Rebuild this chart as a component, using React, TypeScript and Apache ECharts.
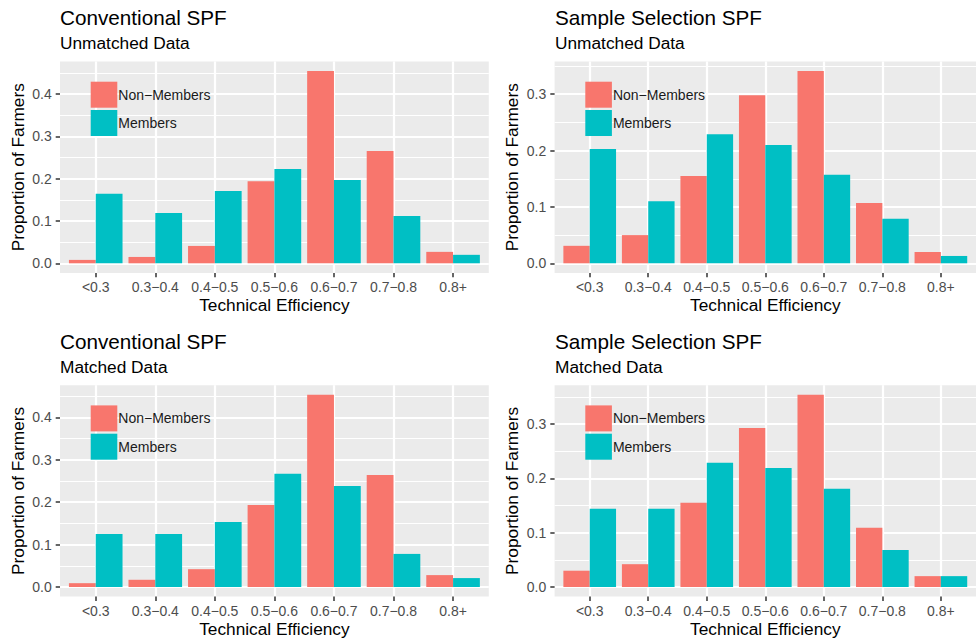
import React, { useEffect, useRef } from "react";
import * as echarts from "echarts";

const categories = ["<0.3", "0.3−0.4", "0.4−0.5", "0.5−0.6", "0.6−0.7", "0.7−0.8", "0.8+"];
const categoryPositions = [1, 2, 3, 4, 5, 6, 7];

const convUnmatchedNonMembers = [0.008, 0.015, 0.041, 0.194, 0.454, 0.265, 0.027];
const convUnmatchedMembers = [0.164, 0.119, 0.171, 0.223, 0.197, 0.112, 0.020];
const ssUnmatchedNonMembers = [0.031, 0.050, 0.155, 0.298, 0.341, 0.107, 0.020];
const ssUnmatchedMembers = [0.203, 0.110, 0.229, 0.210, 0.157, 0.079, 0.013];
const convMatchedNonMembers = [0.009, 0.017, 0.042, 0.193, 0.453, 0.264, 0.028];
const convMatchedMembers = [0.125, 0.125, 0.153, 0.267, 0.238, 0.078, 0.021];
const ssMatchedNonMembers = [0.030, 0.042, 0.155, 0.293, 0.354, 0.109, 0.020];
const ssMatchedMembers = [0.144, 0.144, 0.229, 0.219, 0.181, 0.068, 0.020];

const panelTitles = ["Conventional SPF", "Sample Selection SPF", "Conventional SPF", "Sample Selection SPF"];
const panelSubtitles = ["Unmatched Data", "Unmatched Data", "Matched Data", "Matched Data"];
const majorTicks = [0, 0.1, 0.2, 0.3, 0.4];
const minorTicks = [0.05, 0.15, 0.25, 0.35, 0.45];
const seriesNames = ["Non−Members", "Members"];
const xTitle = "Technical Efficiency";
const yTitle = "Proportion of Farmers";

const panelData = [
  [convUnmatchedNonMembers, convUnmatchedMembers],
  [ssUnmatchedNonMembers, ssUnmatchedMembers],
  [convMatchedNonMembers, convMatchedMembers],
  [ssMatchedNonMembers, ssMatchedMembers],
];

const FONT = "Liberation Sans";
const COLORS = ["#F8766D", "#00BFC4"];
const PANEL_W = 428.8;
const PANEL_H = 211.4;
const LEFTS = [60, 554.6, 60, 554.6];
const TOPS = [61.5, 61.5, 385.2, 385.2];

export default function App() {
  const ref = useRef<HTMLDivElement>(null);
  useEffect(() => {
    document.body.style.margin = "0";
    if (!ref.current) return;
    const chart = echarts.init(ref.current, null, { renderer: "svg" });

    const grids: any[] = [];
    const xAxes: any[] = [];
    const yAxes: any[] = [];
    const minorYAxes: any[] = [];
    const series: any[] = [];
    const titles: any[] = [];
    const legends: any[] = [];

    panelData.forEach((pair, i) => {
      const dataMax = Math.max(...pair[0], ...pair[1]);
      const yMin = -0.05 * dataMax;
      const yMax = 1.05 * dataMax;
      const majors = majorTicks.filter((v) => v <= yMax);
      const minors = minorTicks.filter((v) => v <= yMax);

      grids.push({
        left: LEFTS[i],
        top: TOPS[i],
        width: PANEL_W,
        height: PANEL_H,
        show: true,
        backgroundColor: "#EBEBEB",
        borderWidth: 0,
        containLabel: false,
      });

      xAxes.push({
        type: "value",
        gridIndex: i,
        min: 0.4,
        max: 7.6,
        position: "bottom",
        axisLine: { show: false, onZero: false },
        axisTick: { show: true, length: 4.3, customValues: categoryPositions, lineStyle: { color: "#333333", width: 1.5 } },
        axisLabel: {
          show: true,
          customValues: categoryPositions,
          margin: 7,
          fontSize: 14,
          color: "#4D4D4D",
          fontFamily: FONT,
          formatter: (v: number) => categories[Math.round(v) - 1] ?? "",
        },
        splitLine: { show: true, lineStyle: { color: "#FFFFFF", width: 2.2 } },
        name: xTitle,
        nameLocation: "middle",
        nameGap: 24,
        nameTextStyle: { fontSize: 17.3, color: "#000000", fontFamily: FONT },
      });

      yAxes.push({
        type: "value",
        gridIndex: i,
        min: yMin,
        max: yMax,
        position: "left",
        axisLine: { show: false, onZero: false },
        axisTick: { show: true, length: 4.3, customValues: majors, lineStyle: { color: "#333333", width: 1.5 } },
        axisLabel: {
          show: true,
          customValues: majors,
          margin: 8.3,
          fontSize: 14,
          color: "#4D4D4D",
          fontFamily: FONT,
          formatter: (v: number) => v.toFixed(1),
        },
        splitLine: { show: true, lineStyle: { color: "#FFFFFF", width: 2.2 } },
        name: yTitle,
        nameLocation: "middle",
        nameGap: 34,
        nameRotate: 90,
        nameTextStyle: { fontSize: 17.3, color: "#000000", fontFamily: FONT },
        z: 1,
      });

      minorYAxes.push({
        type: "value",
        gridIndex: i,
        min: yMin,
        max: yMax,
        position: "left",
        axisLine: { show: false, onZero: false },
        axisTick: { show: false, customValues: minors },
        axisLabel: { show: false, customValues: minors },
        splitLine: { show: true, lineStyle: { color: "#FFFFFF", width: 1.1 } },
        z: 0,
      });

      pair.forEach((values, s) => {
        series.push({
          type: "bar",
          name: seriesNames[s],
          xAxisIndex: i,
          yAxisIndex: i,
          data: values.map((v, k) => [categoryPositions[k], v]),
          barWidth: "45%",
          barGap: "0%",
          itemStyle: { color: COLORS[s] },
          emphasis: { disabled: true },
          z: 3,
        });
      });

      titles.push({
        text: panelTitles[i],
        subtext: panelSubtitles[i],
        left: i % 2 === 0 ? 60 : 555,
        top: i < 2 ? 7 : 330.7,
        padding: 0,
        itemGap: 6.7,
        textStyle: { fontSize: 20.7, fontWeight: "normal", color: "#000000", fontFamily: FONT },
        subtextStyle: { fontSize: 17.3, color: "#000000", fontFamily: FONT },
      });

      legends.push({
        orient: "vertical",
        left: LEFTS[i] + 30.7,
        top: TOPS[i] + 20.2,
        itemWidth: 26.6,
        itemHeight: 26,
        itemGap: 2.3,
        icon: "rect",
        padding: 0,
        selectedMode: false,
        textStyle: { fontSize: 14, color: "#1A1A1A", fontFamily: FONT, padding: [0, 0, 0, -4] },
        data: seriesNames.map((n, s) => ({ name: n, itemStyle: { color: COLORS[s] } })),
      });
    });

    // minor axes after the primaries so axis indices 0..3 are the main ones
    const allY = [...yAxes, ...minorYAxes];

    chart.setOption({
      animation: false,
      backgroundColor: "#FFFFFF",
      textStyle: { fontFamily: FONT },
      color: COLORS,
      title: titles,
      legend: legends,
      grid: grids,
      xAxis: xAxes,
      yAxis: allY,
      series,
    });

    return () => chart.dispose();
  }, []);

  return <div ref={ref} style={{ width: 976, height: 644 }} />;
}
